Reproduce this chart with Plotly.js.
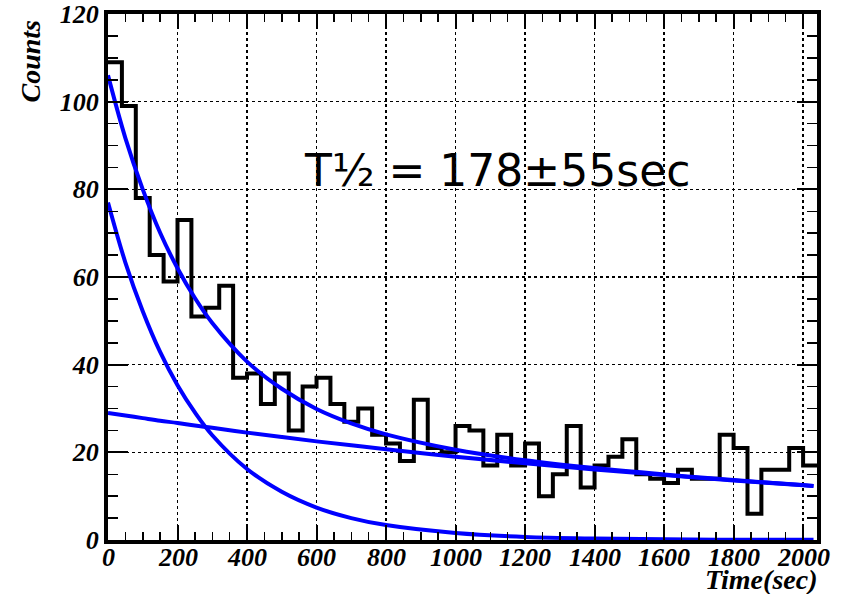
<!DOCTYPE html>
<html>
<head>
<meta charset="utf-8">
<script src="https://cdn.plot.ly/plotly-3.0.1.min.js"></script>
<style>html,body{margin:0;padding:0;background:#fff;}#chart{width:841px;height:594px;}</style>
</head>
<body>
<div id="chart"></div>
<script>
// Histogram: bin low edges (width 40 s) and counts
var binEdges = [0,40,80,120,160,200,240,280,320,360,400,440,480,520,560,600,640,680,720,760,800,840,880,920,960,1000,1040,1080,1120,1160,1200,1240,1280,1320,1360,1400,1440,1480,1520,1560,1600,1640,1680,1720,1760,1800,1840,1880,1920,1960,2000];
var counts = [109,99,78,65,59,73,51,53,58,37,38,31,38,25,35,37,31,27,30,24,22,18,32,21,20,26,25,17,24,17,22,10,15,26,12,17,19,23,15,14,13,16,14,14,24,21,6,16,16,21,17];
var histEnd = 2040;

// Fit curves, points
var fitT     = [0,50,100,150,200,250,300,400,500,600,700,800,1000,1200,1400,1600,1800,2000,2030];
var fitTotal = [106,91.7,80.0,70.1,62.0,55.2,49.5,40.7,34.5,29.9,26.6,24.1,20.6,18.2,16.4,14.95,13.67,12.53,12.35];
var fitFast  = [77,63.3,52.2,42.9,35.3,29.1,23.9,16.2,11.0,7.4,5.0,3.4,1.6,0.7,0.33,0.15,0.07,0.03,0.03];
var fitSlow  = [29,28.4,27.8,27.2,26.7,26.1,25.6,24.5,23.5,22.5,21.6,20.7,19.0,17.5,16.1,14.8,13.6,12.5,12.3];

var xTickVals = [0,200,400,600,800,1000,1200,1400,1600,1800,2000];
var yTickVals = [0,20,40,60,80,100,120];
var label = "T½ = 178±55sec";

var hx = binEdges.concat([histEnd]);
var hy = counts.concat([counts[counts.length-1]]);

var blue = '#0000ff';
var traces = [
  {x: hx, y: hy, type: 'scatter', mode: 'lines', line: {shape: 'hv', color: '#000', width: 4}, hoverinfo: 'skip'},
  {x: fitT, y: fitFast, type: 'scatter', mode: 'lines', line: {shape: 'spline', color: blue, width: 4}},
  {x: fitT, y: fitSlow, type: 'scatter', mode: 'lines', line: {shape: 'spline', color: blue, width: 4}},
  {x: fitT, y: fitTotal, type: 'scatter', mode: 'lines', line: {shape: 'spline', color: blue, width: 4}}
];

var tickFont = {family: 'Liberation Serif', size: 26, color: '#000', weight: 'bold', style: 'italic'};

var annotations = [
  {text: 'Time(sec)', xref: 'paper', yref: 'paper', x: 1, y: 0, xanchor: 'right', yanchor: 'bottom', yshift: -57, xshift: 2, showarrow: false,
   font: {family: 'Liberation Serif', size: 28, color: '#000', weight: 'bold', style: 'italic'}},
  {text: 'Counts', xref: 'paper', yref: 'paper', x: 0, y: 1, xanchor: 'center', yanchor: 'top', xshift: -78, yshift: -4, textangle: -90, showarrow: false,
   font: {family: 'Liberation Serif', size: 28, color: '#000', weight: 'bold', style: 'italic'}},
  {text: label, xref: 'x', yref: 'y', x: 1118, y: 84.4, xanchor: 'center', yanchor: 'middle', showarrow: false,
   font: {family: 'DejaVu Sans', size: 44, color: '#000'}}
];
xTickVals.forEach(function (v) {
  annotations.push({text: String(v), xref: 'x', yref: 'paper', x: v, y: 0, xanchor: 'center', yanchor: 'top',
    yshift: -1, showarrow: false, font: tickFont});
});

var layout = {
  width: 841, height: 594,
  margin: {l: 108, r: 24, t: 14, b: 54},
  paper_bgcolor: '#fff', plot_bgcolor: '#fff',
  showlegend: false,
  xaxis: {
    range: [0, 2040], tickmode: 'array', tickvals: xTickVals, showticklabels: false,
    ticks: 'inside', ticklen: 15, tickwidth: 2, tickcolor: '#000',
    showline: true, linewidth: 4, linecolor: '#000', mirror: 'ticks',
    showgrid: true, gridcolor: '#000', gridwidth: 1.5, griddash: 'dot',
    zeroline: false,
    minor: {dtick: 50, ticks: 'inside', ticklen: 8, tickwidth: 1.5, tickcolor: '#000', showgrid: false}
  },
  yaxis: {
    range: [0, 120], tickmode: 'array', tickvals: yTickVals, ticktext: yTickVals.map(String),
    ticks: 'inside', ticklen: 20, tickwidth: 2, tickcolor: '#000',
    showline: true, linewidth: 4, linecolor: '#000', mirror: 'ticks',
    showgrid: true, gridcolor: '#000', gridwidth: 1.5, griddash: 'dot',
    zeroline: false, tickfont: tickFont,
    minor: {dtick: 5, ticks: 'inside', ticklen: 10, tickwidth: 1.5, tickcolor: '#000', showgrid: false}
  },
  annotations: annotations
};

Plotly.newPlot('chart', traces, layout, {staticPlot: true, displayModeBar: false});
</script>
</body>
</html>
